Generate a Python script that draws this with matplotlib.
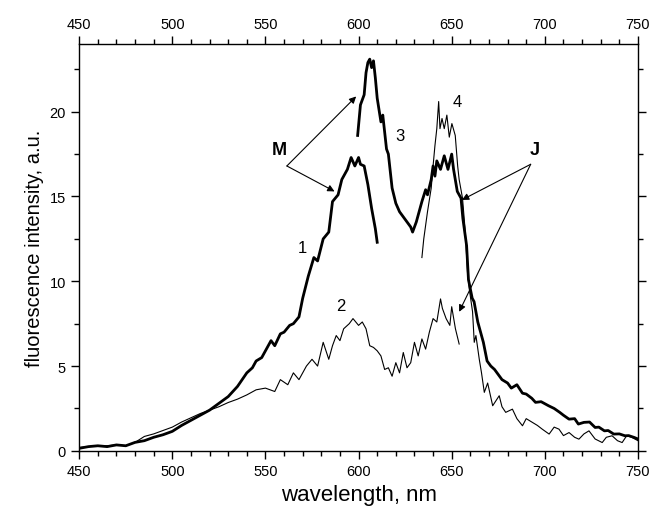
import matplotlib
matplotlib.use("Agg")
import matplotlib.pyplot as plt
from matplotlib.ticker import MultipleLocator

plt.rcParams["font.family"] = ["Liberation Sans", "DejaVu Sans"]

# Spectrum 1 (thick)
wl1 = [450, 455, 460, 465, 470, 475, 480, 485, 490, 495,
       500, 505, 510, 515, 520, 525, 530, 535, 540, 543,
       545, 548, 550, 553, 555, 558, 560, 563, 565, 568,
       570, 573, 576, 578, 581, 584, 586, 589, 591, 594,
       596, 598, 600, 601, 603, 605, 607, 609, 610]
int1 = [0.15, 0.25, 0.3, 0.25, 0.35, 0.3, 0.5, 0.6, 0.8, 0.95,
        1.15, 1.5, 1.8, 2.1, 2.4, 2.8, 3.2, 3.8, 4.6, 4.9,
        5.3, 5.5, 5.9, 6.5, 6.2, 6.9, 7.0, 7.4, 7.5, 7.9,
        9.0, 10.3, 11.4, 11.2, 12.5, 12.9, 14.7, 15.1, 16.0, 16.6,
        17.3, 16.8, 17.3, 16.9, 16.8, 15.7, 14.3, 13.1, 12.3]

# Spectrum 2 (thin)
wl2 = [450, 455, 460, 465, 470, 475, 480, 485, 490, 495,
       500, 505, 510, 515, 520, 525, 530, 535, 540, 545,
       550, 555, 558, 562, 565, 568, 572, 575, 578, 581,
       584, 586, 588, 590, 592, 595, 597, 600, 602, 604,
       606, 608, 610, 612, 614, 616, 618, 620, 622, 624,
       626, 628, 630, 632, 634, 636, 638, 640, 642, 644,
       645, 647, 649, 650, 652, 654]
int2 = [0.2, 0.25, 0.3, 0.3, 0.35, 0.3, 0.5, 0.85, 1.0, 1.2,
        1.4, 1.7, 1.95, 2.2, 2.4, 2.6, 2.85, 3.05, 3.3, 3.6,
        3.7, 3.5, 4.2, 3.9, 4.6, 4.2, 5.0, 5.4, 5.0, 6.4,
        5.4, 6.2, 6.8, 6.5, 7.2, 7.5, 7.8, 7.4, 7.6, 7.2,
        6.2, 6.1, 5.9, 5.6, 4.8, 4.9, 4.4, 5.2, 4.6, 5.8,
        4.9, 5.2, 6.4, 5.6, 6.6, 6.0, 7.0, 7.8, 7.6, 8.96,
        8.4, 7.8, 7.4, 8.5, 7.2, 6.3]

# Spectrum 3 (thick)
wl3 = [599.5, 601, 603, 604, 605, 606, 607, 608, 609, 610,
       612, 613, 615, 616, 618, 620, 622, 624, 626, 628,
       629, 631, 632, 634, 636, 637, 639, 640, 641, 642,
       644, 646, 648, 650, 651, 653, 655, 656, 658, 659,
       661, 662, 664, 667, 669, 671, 673, 675, 677, 680,
       682, 685, 688, 690, 693, 695, 698, 702, 705, 708,
       710, 713, 716, 718, 721, 724, 727, 729, 732, 734,
       737, 740, 743, 745, 748, 750]
int3 = [18.6, 20.4, 21.0, 22.3, 22.9, 23.1, 22.6, 23.0, 22.0, 20.8,
        19.4, 19.8, 17.8, 17.5, 15.5, 14.6, 14.1, 13.8, 13.5, 13.2,
        12.9, 13.5, 13.9, 14.7, 15.4, 15.1, 16.0, 16.8, 16.2, 17.1,
        16.6, 17.4, 16.6, 17.5, 16.6, 15.3, 14.9, 13.7, 12.1, 10.1,
        9.0, 8.8, 7.6, 6.4, 5.3, 5.0, 4.8, 4.5, 4.2, 4.0,
        3.7, 3.9, 3.4, 3.35, 3.1, 2.86, 2.9, 2.66, 2.5, 2.27,
        2.1, 1.87, 1.9, 1.58, 1.68, 1.7, 1.38, 1.4, 1.18, 1.2,
        0.99, 1.0, 0.89, 0.9, 0.79, 0.7]

# Spectrum 4 (thin)
wl4 = [634, 635, 637, 639, 640, 641, 642, 643, 643.7, 644.8,
       646, 647.4, 648.7, 650.1, 651.9, 653.2, 654, 655.8, 657.3, 658.5,
       659.5, 661.2, 662.1, 663, 664.8, 666, 667.5, 669.3, 672, 675.5,
       677, 679, 682.6, 685, 688, 690, 693.3, 696, 698.6, 702.3,
       705, 707.6, 710, 713, 716, 718.3, 721, 723.7, 727, 730.8,
       733, 736.1, 739, 741.5, 744, 746.8, 750]
int4 = [11.4, 12.5, 14.1, 15.5, 16.8, 18.0, 19.0, 20.6, 19.0, 19.6,
        19.0, 19.8, 18.5, 19.3, 18.6, 16.8, 16.0, 14.9, 12.9, 10.5,
        9.5, 8.2, 6.4, 6.8, 5.4, 4.6, 3.45, 4.0, 2.66, 3.25,
        2.6, 2.27, 2.46, 1.9, 1.48, 1.9, 1.68, 1.5, 1.28, 0.99,
        1.4, 1.28, 0.9, 1.08, 0.8, 0.69, 1.0, 1.18, 0.7, 0.49,
        0.8, 0.89, 0.6, 0.49, 0.9, 0.79, 0.6]

fig = plt.figure(figsize=(6.49, 5.10), dpi=100)
ax = fig.add_axes([0.122, 0.114, 0.861, 0.798])

ax.plot(wl2, int2, color="black", lw=0.8)
ax.plot(wl4, int4, color="black", lw=0.8)
ax.plot(wl1, int1, color="black", lw=2.0)
ax.plot(wl3, int3, color="black", lw=2.0)

# curve numbers
ax.text(570, 12.0, "1", fontsize=12, ha="center", va="center")
ax.text(590.6, 8.6, "2", fontsize=12, ha="center", va="center")
ax.text(622, 18.6, "3", fontsize=12, ha="center", va="center")
ax.text(653.2, 20.6, "4", fontsize=12, ha="center", va="center")

# band markers with arrows
arrow = dict(arrowstyle="-|>", color="black", lw=0.8, mutation_scale=10,
             shrinkA=0, shrinkB=0)
ax.text(557.7, 17.8, "M", fontsize=13, fontweight="bold", ha="center", va="center")
ax.annotate("", xy=(598.7, 20.9), xytext=(561.5, 16.8), arrowprops=arrow)
ax.annotate("", xy=(587.1, 15.3), xytext=(561.5, 16.8), arrowprops=arrow)
ax.text(694.8, 17.8, "J", fontsize=13, fontweight="bold", ha="center", va="center")
ax.annotate("", xy=(655.5, 14.8), xytext=(692.4, 16.9), arrowprops=arrow)
ax.annotate("", xy=(654, 8.2), xytext=(692.4, 16.9), arrowprops=arrow)

ax.set_xlim(450, 750)
ax.set_ylim(0, 24)
ax.xaxis.set_major_locator(MultipleLocator(50))
ax.xaxis.set_minor_locator(MultipleLocator(10))
ax.yaxis.set_major_locator(MultipleLocator(5))
ax.yaxis.set_minor_locator(MultipleLocator(2.5))
ax.tick_params(which="both", direction="out", top=True, right=True,
               labeltop=True, labelsize=10.5, width=1.0)
ax.tick_params(which="major", length=6)
ax.tick_params(which="minor", length=3.5)
for s in ax.spines.values():
    s.set_linewidth(1.0)

ax.set_xlabel("wavelength, nm", fontsize=16, labelpad=4)
ax.set_ylabel("fluorescence intensity, a.u.", fontsize=14.5, labelpad=4)

fig.savefig("out.png", dpi=100)
